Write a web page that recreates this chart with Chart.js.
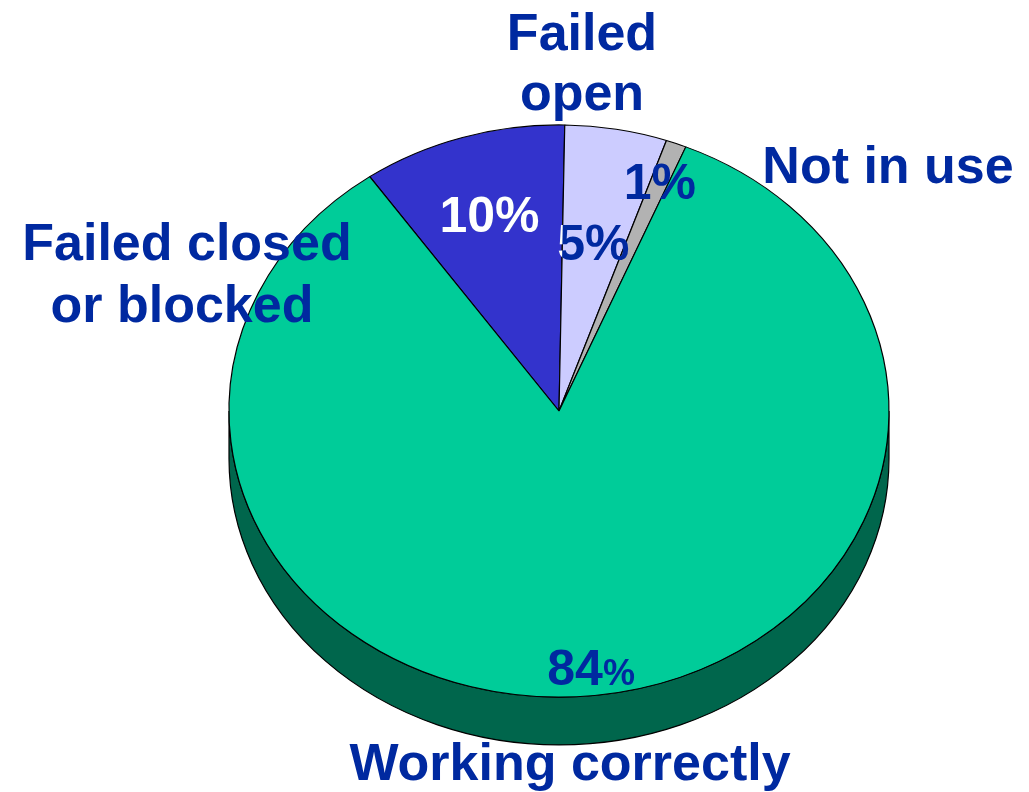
<!DOCTYPE html>
<html>
<head>
<meta charset="utf-8">
<script src="https://cdn.jsdelivr.net/npm/chart.js@4/dist/chart.umd.min.js"></script>
<style>
  html, body { margin: 0; padding: 0; background: #fff; }
  #wrap { width: 1029px; height: 792px; }
</style>
</head>
<body>
<div id="wrap"><canvas id="pieChart"></canvas></div>
<script>
// slices, clockwise from the start angle
const labels = ["Failed closed or blocked", "Failed open", "Not in use", "Working correctly"]
const values = [10, 5, 1, 84]
const sliceColors = ["#3333CC", "#CCCCFF", "#B2B2B2", "#00CC99"]

const TEXT_COLOR = "#0029A0"
const SIDE_COLOR = "#00664C"
const TILT = 0.867      // vertical squash of the pie face
const DEPTH = 0.145     // height of the rim, as a fraction of the radius
const FONT = "'Liberation Sans', Arial, sans-serif"

// category names, offsets from the pie centre
const nameLines = [
  { text: "Failed closed", dx: -372, dy: -151 },
  { text: "or blocked", dx: -377, dy: -89 },
  { text: "Failed", dx: 23, dy: -361 },
  { text: "open", dx: 23, dy: -301 },
  { text: "Not in use", dx: 329, dy: -228 },
  { text: "Working correctly", dx: 11, dy: 369 }
]

// where along the radius each value label sits, and size of its "%"
const valueRadius = [0.72, 0.6, 0.86, 0.9]
const percentSize = [50, 50, 50, 36]

function withTilt(ctx, x, y) {
  ctx.translate(x, y)
  ctx.scale(1, TILT)
  ctx.translate(-x, -y)
}

// rim under the front half, then squash the face so it reads as a tilted disc
const tiltPlugin = {
  id: "tilt",
  beforeDatasetsDraw(chart) {
    const arc = chart.getDatasetMeta(0).data[0]
    const { x, y, outerRadius: r } = arc
    const ctx = chart.ctx
    const ry = r * TILT
    const d = r * DEPTH

    ctx.save()
    ctx.beginPath()
    ctx.ellipse(x, y, r, ry, 0, 0, Math.PI)
    ctx.lineTo(x - r, y + d)
    ctx.ellipse(x, y + d, r, ry, 0, Math.PI, 0, true)
    ctx.closePath()
    ctx.fillStyle = SIDE_COLOR
    ctx.fill()
    ctx.lineWidth = 1.2
    ctx.strokeStyle = "#000"
    ctx.stroke()
    ctx.restore()

    ctx.save()
    withTilt(ctx, x, y)
  },
  afterDatasetsDraw(chart) {
    chart.ctx.restore()
  }
}

function drawTexts(ctx, chart, color) {
  const meta = chart.getDatasetMeta(0)
  const { x, y, outerRadius: r } = meta.data[0]

  ctx.fillStyle = color
  ctx.textAlign = "center"
  ctx.textBaseline = "alphabetic"
  ctx.font = "bold 52px " + FONT
  nameLines.forEach(l => ctx.fillText(l.text, x + l.dx, y + l.dy))

  meta.data.forEach((a, i) => {
    const mid = (a.startAngle + a.endAngle) / 2
    const px = x + Math.cos(mid) * r * valueRadius[i]
    const py = y + Math.sin(mid) * r * valueRadius[i] * TILT
    const num = String(values[i])
    ctx.font = "bold 50px " + FONT
    const wNum = ctx.measureText(num).width
    ctx.font = "bold " + percentSize[i] + "px " + FONT
    const wPct = ctx.measureText("%").width
    const left = px - (wNum + wPct) / 2
    ctx.textAlign = "left"
    ctx.font = "bold 50px " + FONT
    ctx.fillText(num, left, py + 18)
    ctx.font = "bold " + percentSize[i] + "px " + FONT
    ctx.fillText("%", left + wNum, py + 18)
    ctx.textAlign = "center"
  })
}

// labels: dark blue everywhere, white where they cross the blue slice
const labelPlugin = {
  id: "sliceLabels",
  afterDraw(chart) {
    const ctx = chart.ctx
    const meta = chart.getDatasetMeta(0)
    const blue = meta.data[0]
    const { x, y, outerRadius: r } = blue

    ctx.save()
    drawTexts(ctx, chart, TEXT_COLOR)
    ctx.restore()

    ctx.save()
    const base = ctx.getTransform()
    withTilt(ctx, x, y)
    ctx.beginPath()
    ctx.moveTo(x, y)
    ctx.arc(x, y, r, blue.startAngle, blue.endAngle)
    ctx.closePath()
    ctx.setTransform(base)
    ctx.clip()
    drawTexts(ctx, chart, "#FFFFFF")
    ctx.restore()
  }
}

new Chart(document.getElementById("pieChart"), {
  type: "pie",
  data: {
    labels: labels,
    datasets: [{
      data: values,
      backgroundColor: sliceColors,
      borderColor: "#000",
      borderWidth: 1.2,
      hoverOffset: 0
    }]
  },
  options: {
    responsive: true,
    maintainAspectRatio: false,
    animation: false,
    rotation: -35,
    radius: 330,
    layout: { padding: { left: 89, right: 0, top: 30, bottom: 0 } },
    plugins: {
      legend: { display: false },
      tooltip: { enabled: false }
    },
    events: []
  },
  plugins: [tiltPlugin, labelPlugin]
})
</script>
</body>
</html>
